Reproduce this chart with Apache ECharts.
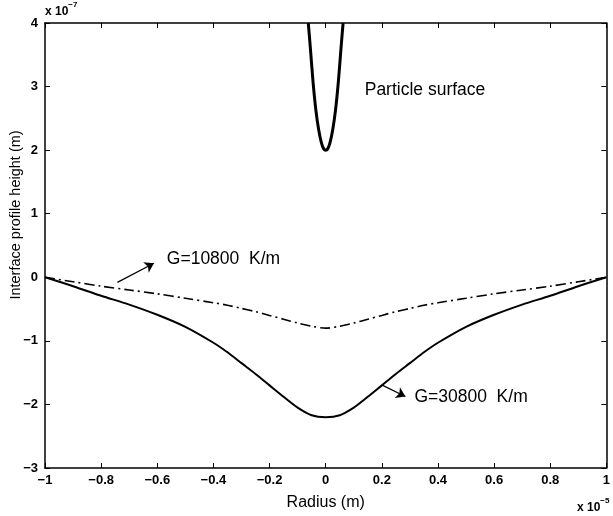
<!DOCTYPE html>
<html>
<head>
<meta charset="utf-8">
<title>Interface profile</title>
<script src="https://cdn.jsdelivr.net/npm/echarts@6/dist/echarts.min.js"></script>
<style>
	html, body { margin: 0; padding: 0; background: #ffffff; }
	#chart { width: 613px; height: 516px; }
</style>
</head>
<body>
<div id="chart"></div>
<script>
// radius in units of 1e-5 m, height in units of 1e-7 m
var radius = [-1, -0.9, -0.8, -0.7, -0.6, -0.5, -0.4, -0.35, -0.3, -0.25, -0.2, -0.15, -0.1, -0.05, 0,
	0.05, 0.1, 0.15, 0.2, 0.25, 0.3, 0.35, 0.4, 0.5, 0.6, 0.7, 0.8, 0.9, 1];
var g30800 = [0, -0.14, -0.29, -0.43, -0.59, -0.78, -1.03, -1.18, -1.35, -1.52, -1.70, -1.88, -2.05, -2.17, -2.2,
	-2.17, -2.05, -1.88, -1.70, -1.52, -1.35, -1.18, -1.03, -0.78, -0.59, -0.43, -0.29, -0.14, 0];
var g10800 = [0, -0.07, -0.14, -0.20, -0.26, -0.33, -0.40, -0.44, -0.49, -0.54, -0.60, -0.66, -0.72, -0.77, -0.8,
	-0.77, -0.72, -0.66, -0.60, -0.54, -0.49, -0.44, -0.40, -0.33, -0.26, -0.20, -0.14, -0.07, 0];
var particleR = [-0.062, -0.055, -0.045, -0.035, -0.025, -0.015, -0.007, 0, 0.007, 0.015, 0.025, 0.035, 0.045, 0.055, 0.062];
var particleH = [4.0, 3.63, 3.07, 2.63, 2.32, 2.11, 2.02, 2.0, 2.02, 2.11, 2.32, 2.63, 3.07, 3.63, 4.0];

function pairs(xs, ys){
	var out = [];
	for (var i = 0; i < xs.length; i++) out.push([xs[i], ys[i]]);
	return out;
}

function fmt(v){
	var s = Math.abs(v - Math.round(v)) < 1e-9 ? String(Math.round(v)) : v.toFixed(1);
	return s.replace('-', '\u2212');
}

var font = 'Liberation Sans, Arial, Helvetica, sans-serif';
var axisLine = { onZero: false, lineStyle: { color: '#000', width: 1.5 } };
var tick = { inside: true, length: 5, lineStyle: { color: '#000', width: 1 } };
var tickLabel = { color: '#000', fontFamily: font, fontSize: 13, fontWeight: 'bold' };

function note(x, y, text){
	return {
		coord: [x, y], symbol: 'circle', symbolSize: 0,
		label: { show: true, position: 'right', distance: 0, formatter: text,
			color: '#000', fontFamily: font, fontSize: 17.5 }
	};
}
function arrow(x1, y1, x2, y2){
	return [{ coord: [x1, y1] }, { coord: [x2, y2] }];
}

var chart = echarts.init(document.getElementById('chart'));
chart.setOption({
	backgroundColor: '#ffffff',
	animation: false,
	grid: { left: 45, right: 1, top: 23, bottom: 44 },
	xAxis: [{
		type: 'value', min: -1, max: 1, interval: 0.2,
		axisLine: axisLine, axisTick: tick, splitLine: { show: false },
		axisLabel: Object.assign({ margin: 6, formatter: fmt }, tickLabel),
		name: 'Radius (m)', nameLocation: 'middle', nameGap: 27,
		nameTextStyle: { color: '#000', fontFamily: font, fontSize: 16 }
	}, {
		type: 'value', position: 'top', min: -1, max: 1, interval: 0.2,
		axisLine: axisLine, axisTick: tick, axisLabel: { show: false }, splitLine: { show: false }
	}],
	yAxis: [{
		type: 'value', min: -3, max: 4, interval: 1,
		axisLine: axisLine, axisTick: tick, splitLine: { show: false },
		axisLabel: Object.assign({ margin: 7, formatter: fmt }, tickLabel)
	}, {
		type: 'value', position: 'right', min: -3, max: 4, interval: 1,
		axisLine: axisLine, axisTick: tick, axisLabel: { show: false }, splitLine: { show: false }
	}],
	graphic: [
		{ type: 'text', left: 45, top: 1, style: {
			text: '{a|x 10}{b|\u22127}', rich: {
				a: { fontFamily: font, fontSize: 12, fontWeight: 'bold', fill: '#000', padding: [8, 0, 0, 0] },
				b: { fontFamily: font, fontSize: 8, fontWeight: 'bold', fill: '#000', padding: [0, 0, 6, 0] }
			} } },
		{ type: 'text', left: 577, top: 497, style: {
			text: '{a|x 10}{b|\u22125}', rich: {
				a: { fontFamily: font, fontSize: 12, fontWeight: 'bold', fill: '#000', padding: [8, 0, 0, 0] },
				b: { fontFamily: font, fontSize: 8, fontWeight: 'bold', fill: '#000', padding: [0, 0, 6, 0] }
			} } },
		{ type: 'text', x: 16, y: 215, rotation: Math.PI / 2, style: {
			text: 'Interface profile height (m)', fontFamily: font, fontSize: 14.5, fill: '#000',
			textAlign: 'center', textVerticalAlign: 'middle' } }
	],
	series: [{
		name: 'G=30800 K/m', type: 'line', data: pairs(radius, g30800), smooth: 0.3,
		showSymbol: false, lineStyle: { color: '#000', width: 2 },
		markPoint: { data: [note(0.316, -1.89, 'G=30800  K/m')] },
		markLine: { silent: true, symbol: ['none', 'arrow'], symbolSize: 9, label: { show: false },
			lineStyle: { color: '#000', width: 1.2, type: 'solid' },
			data: [arrow(0.203, -1.70, 0.284, -1.875)] }
	}, {
		name: 'G=10800 K/m', type: 'line', data: pairs(radius, g10800), smooth: 0.3,
		showSymbol: false, lineStyle: { color: '#000', width: 1.6, type: [10, 4, 2, 4] },
		markPoint: { data: [note(-0.566, 0.28, 'G=10800  K/m')] },
		markLine: { silent: true, symbol: ['none', 'arrow'], symbolSize: 9, label: { show: false },
			lineStyle: { color: '#000', width: 1.2, type: 'solid' },
			data: [arrow(-0.742, -0.08, -0.612, 0.22)] }
	}, {
		name: 'Particle surface', type: 'line', data: pairs(particleR, particleH), smooth: 0.3,
		showSymbol: false, lineStyle: { color: '#000', width: 3 },
		markPoint: { data: [note(0.139, 2.95, 'Particle surface')] }
	}]
});
</script>
</body>
</html>
